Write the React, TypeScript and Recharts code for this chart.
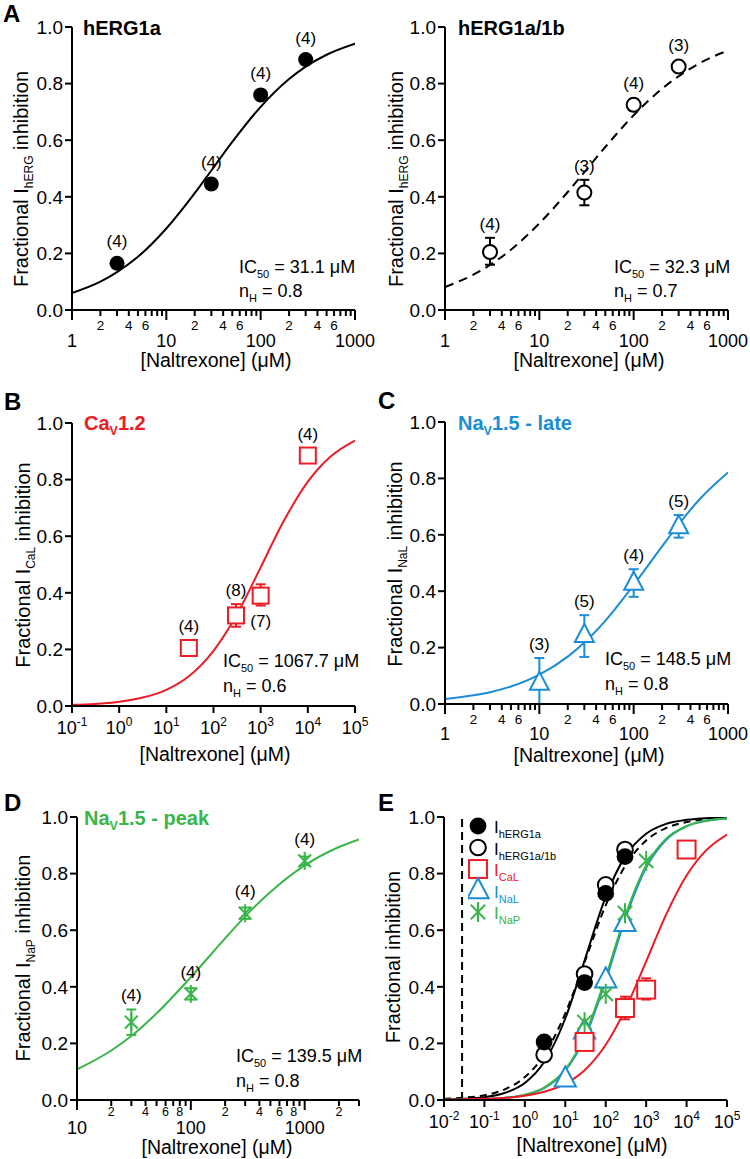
import React from 'react';
import {
  ComposedChart,
  Line,
  Scatter,
  XAxis,
  YAxis,
  ErrorBar,
  ReferenceLine,
  Legend,
} from 'recharts';

const FONT = '"Liberation Sans", Arial, Helvetica, sans-serif';
const RED = '#ED1C24';
const BLUE = '#1B8DD5';
const GREEN = '#3AB54A';
const BLACK = '#000000';

// concentrations tested (µM)
const concHerg = [3, 30, 100, 300];
const concCaL = [30, 300, 1000, 10000];
const concNaL = [10, 30, 100, 300];
const concNaP = [30, 100, 300, 1000];

// A - hERG1a
const herg1aMean = [0.165, 0.445, 0.76, 0.885];
const herg1aN = [4, 4, 4, 4];
// A - hERG1a/1b
const herg1a1bMean = [0.205, 0.415, 0.725, 0.86];
const herg1a1bErrLo = [0.045, 0.045, 0.02, 0.015];
const herg1a1bErrHi = [0.05, 0.045, 0.02, 0.015];
const herg1a1bN = [4, 3, 4, 3];
// B - CaV1.2
const caLMean = [0.205, 0.32, 0.39, 0.885];
const caLErrLo = [0.025, 0.04, 0.035, 0];
const caLErrHi = [0.015, 0.04, 0.04, 0];
const caLN = [4, 8, 7, 4];
const caLNBelow = [false, false, true, false];
// C - NaV1.5 late
const naLMean = [0.075, 0.245, 0.43, 0.63];
const naLErrLo = [0.075, 0.078, 0.05, 0.04];
const naLErrHi = [0.088, 0.07, 0.048, 0.04];
const naLN = [3, 5, 4, 5];
// D - NaV1.5 peak
const naPMean = [0.275, 0.375, 0.66, 0.845];
const naPErrLo = [0.045, 0.02, 0.02, 0.015];
const naPErrHi = [0.045, 0.02, 0.02, 0.015];
const naPN = [4, 4, 4, 4];
// E - overlay of all channels
const eHerg1aMean = [0.205, 0.415, 0.73, 0.86];
const eHerg1a1bMean = [0.16, 0.445, 0.76, 0.885];
const eCaLMean = [0.205, 0.325, 0.39, 0.885];
const eCaLErrLo = [0, 0.04, 0.035, 0];
const eCaLErrHi = [0, 0.04, 0.04, 0];
const eNaLMean = [0.075, 0.245, 0.425, 0.625];
const eNaPMean = [0.275, 0.375, 0.66, 0.845];
const cmaxConc = 0.028;

// fitted curves
const fitX1to1000 = [1, 2, 3, 5, 10, 20, 30, 50, 100, 200, 300, 500, 1000];
const fitHerg1a = [0.06, 0.1, 0.134, 0.188, 0.288, 0.413, 0.493, 0.594, 0.718, 0.816, 0.86, 0.902, 0.941];
const fitHerg1a1b = [0.081, 0.125, 0.159, 0.213, 0.306, 0.417, 0.487, 0.576, 0.688, 0.782, 0.826, 0.872, 0.917];
const fitNaL = [0.018, 0.031, 0.042, 0.062, 0.104, 0.168, 0.218, 0.295, 0.422, 0.559, 0.637, 0.726, 0.821];
const fitXCaL = [0.1, 0.3, 1, 3, 10, 30, 100, 300, 1000, 3000, 10000, 30000, 100000];
const fitCaL = [0.004, 0.007, 0.015, 0.029, 0.057, 0.105, 0.195, 0.318, 0.49, 0.65, 0.793, 0.881, 0.938];
const fitXNaP = [10, 20, 30, 50, 100, 200, 300, 500, 1000, 2000, 3000];
const fitNaP = [0.108, 0.175, 0.226, 0.306, 0.434, 0.571, 0.649, 0.735, 0.829, 0.894, 0.921];
const fitXE = [0.01, 0.03, 0.1, 0.3, 1, 3, 10, 30, 100, 300, 1000, 3000, 10000, 30000, 100000];
const fitEHerg1a = [0.002, 0.004, 0.01, 0.024, 0.06, 0.134, 0.288, 0.493, 0.718, 0.86, 0.941, 0.975, 0.99, 0.996, 0.998];
const fitEHerg1a1b = [0.004, 0.008, 0.017, 0.036, 0.081, 0.159, 0.306, 0.487, 0.688, 0.826, 0.917, 0.96, 0.982, 0.992, 0.996];
const fitECaL = [0.001, 0.002, 0.004, 0.007, 0.015, 0.029, 0.057, 0.105, 0.195, 0.318, 0.49, 0.65, 0.793, 0.881, 0.938];
const fitENaL = [0.0005, 0.001, 0.003, 0.007, 0.018, 0.042, 0.104, 0.218, 0.422, 0.637, 0.821, 0.917, 0.967, 0.986, 0.995];
const fitENaP = [0.0005, 0.001, 0.003, 0.007, 0.019, 0.044, 0.108, 0.226, 0.434, 0.649, 0.829, 0.921, 0.968, 0.987, 0.995];

// axis ticks
const yTicks = [0, 0.2, 0.4, 0.6, 0.8, 1.0];
const ticks1to1000 = [1, 2, 3, 4, 5, 6, 7, 8, 9, 10, 20, 30, 40, 50, 60, 70, 80, 90, 100, 200, 300, 400, 500, 600, 700, 800, 900, 1000];
const ticks10to3000 = [10, 20, 30, 40, 50, 60, 70, 80, 90, 100, 200, 300, 400, 500, 600, 700, 800, 900, 1000, 2000, 3000];
const decadesB = [0.1, 1, 10, 100, 1000, 10000, 100000];
const decadesE = [0.01, 0.1, 1, 10, 100, 1000, 10000, 100000];
const minorLabels246 = [2, 4, 6];
const minorLabels2468 = [2, 4, 6, 8];

type MarkerKind = 'filled' | 'open' | 'square' | 'triangle' | 'star';

interface Pt {
  x: number;
  y: number;
  n?: number;
  err?: [number, number];
  below?: boolean;
}

const toPts = (
  xs: number[],
  ys: number[],
  ns?: number[],
  lo?: number[],
  hi?: number[],
  below?: boolean[]
): Pt[] =>
  xs.map((x, i) => ({
    x,
    y: ys[i],
    n: ns ? ns[i] : undefined,
    err: lo && hi ? [lo[i], hi[i]] : undefined,
    below: below ? below[i] : false,
  }));

const toLine = (xs: number[], ys: number[]) => xs.map((x, i) => ({ x, y: ys[i] }));

const drawMarker = (kind: MarkerKind, cx: number, cy: number, color: string, s = 1) => {
  switch (kind) {
    case 'filled':
      return <circle cx={cx} cy={cy} r={7.5 * s} fill={color} />;
    case 'open':
      return <circle cx={cx} cy={cy} r={7 * s} fill="#fff" stroke={color} strokeWidth={2} />;
    case 'square':
      return (
        <rect x={cx - 8 * s} y={cy - 8 * s} width={16 * s} height={16 * s} fill="#fff" stroke={color} strokeWidth={2} />
      );
    case 'triangle':
      return (
        <polygon
          points={`${cx},${cy - 11 * s} ${cx - 9.5 * s},${cy + 7 * s} ${cx + 9.5 * s},${cy + 7 * s}`}
          fill="#fff"
          stroke={color}
          strokeWidth={2}
        />
      );
    default: {
      const r = 9 * s;
      const d = 6.4 * s;
      return (
        <g stroke={color} strokeWidth={2}>
          <line x1={cx} y1={cy - r} x2={cx} y2={cy + r} />
          <line x1={cx - d} y1={cy - d} x2={cx + d} y2={cy + d} />
          <line x1={cx - d} y1={cy + d} x2={cx + d} y2={cy - d} />
        </g>
      );
    }
  }
};

const makeShape = (kind: MarkerKind, color: string, plotH: number, showN: boolean, scale: number) => (props: any) => {
  const { cx, cy, payload } = props;
  if (cx == null || cy == null) return <g />;
  const lo = payload.err ? payload.err[0] * plotH : 0;
  const hi = payload.err ? payload.err[1] * plotH : 0;
  let label = null;
  if (showN && payload.n != null) {
    const ly = payload.below ? cy + Math.max(10, lo) + 21 : cy - Math.max(16, hi + 8);
    label = (
      <text x={cx} y={ly} textAnchor="middle" fontSize={17} fill="#000">
        ({payload.n})
      </text>
    );
  }
  return (
    <g>
      {drawMarker(kind, cx, cy, color, scale)}
      {label}
    </g>
  );
};

// log axis with minor ticks, labelled 2 4 6 between decades
const makeMinorTick = (labelDigits: number[], majorDy: number, minorDy: number, minorSize: number) => (props: any) => {
  const { x, y, payload } = props;
  const v = payload.value;
  const lg = Math.log10(v);
  const major = Math.abs(lg - Math.round(lg)) < 1e-6;
  const lead = Math.round(v / Math.pow(10, Math.floor(lg + 1e-9)));
  return (
    <g>
      <line x1={x} x2={x} y1={y} y2={y + (major ? 10 : 6)} stroke="#000" strokeWidth={2} />
      {major && (
        <text x={x} y={y + majorDy} textAnchor="middle" fontSize={18} fill="#000">
          {String(Math.round(v))}
        </text>
      )}
      {!major && labelDigits.includes(lead) && (
        <text x={x} y={y + minorDy} textAnchor="middle" fontSize={minorSize} fill="#000">
          {lead}
        </text>
      )}
    </g>
  );
};

// log axis with decade ticks labelled as powers of ten
const decadeTick = (props: any) => {
  const { x, y, payload } = props;
  const e = Math.round(Math.log10(payload.value));
  return (
    <g>
      <line x1={x} x2={x} y1={y} y2={y + 7} stroke="#000" strokeWidth={2} />
      <text x={x} y={y + 28} textAnchor="middle" fontSize={18} fill="#000">
        10
        <tspan fontSize={12} dy={-8}>
          {e}
        </tspan>
      </text>
    </g>
  );
};

interface CurveSpec {
  data: { x: number; y: number }[];
  color: string;
  dash?: string;
}

interface PointSpec {
  pts: Pt[];
  kind: MarkerKind;
  color: string;
  showN: boolean;
  errors: boolean;
}

interface PanelProps {
  left: number;
  top: number;
  height: number;
  marginTop: number;
  marginRight: number;
  yAxisWidth: number;
  plotH: number;
  markerScale?: number;
  xDomain: [number, number];
  xTicks: number[];
  tick: (p: any) => React.ReactElement;
  curves: CurveSpec[];
  points: PointSpec[];
  refX?: number;
  legend?: React.ReactElement;
}

const Panel = (p: PanelProps) => (
  <div style={{ position: 'absolute', left: p.left, top: p.top }}>
    <ComposedChart
      width={375}
      height={p.height}
      margin={{ top: p.marginTop, right: p.marginRight, bottom: 0, left: 0 }}
    >
      <XAxis
        dataKey="x"
        type="number"
        scale="log"
        domain={p.xDomain}
        allowDataOverflow
        ticks={p.xTicks}
        interval={0}
        tick={p.tick}
        tickSize={0}
        tickMargin={0}
        tickLine={false}
        height={p.height - p.marginTop - p.plotH}
        axisLine={{ stroke: '#000', strokeWidth: 2 }}
      />
      <YAxis
        dataKey="y"
        type="number"
        domain={[0, 1]}
        ticks={yTicks}
        allowDataOverflow
        width={p.yAxisWidth}
        tickSize={7}
        tickMargin={2}
        tickFormatter={(v: number) => v.toFixed(1)}
        tick={{ fill: '#000', fontSize: 19 }}
        tickLine={{ stroke: '#000', strokeWidth: 2 }}
        axisLine={{ stroke: '#000', strokeWidth: 2 }}
      />
      {p.refX != null && (
        <ReferenceLine x={p.refX} stroke="#000" strokeWidth={2} strokeDasharray="8 5" />
      )}
      {p.curves.map((c, i) => (
        <Line
          key={`c${i}`}
          data={c.data}
          dataKey="y"
          type="monotone"
          stroke={c.color}
          strokeWidth={2}
          strokeDasharray={c.dash}
          dot={false}
          activeDot={false}
          isAnimationActive={false}
        />
      ))}
      {p.points.map((s, i) => (
        <Scatter
          key={`s${i}`}
          data={s.pts}
          dataKey="y"
          shape={makeShape(s.kind, s.color, p.plotH, s.showN, p.markerScale ?? 1)}
          isAnimationActive={false}
        >
          {s.errors && (
            <ErrorBar
              dataKey="err"
              direction="y"
              width={5}
              strokeWidth={2}
              stroke={s.color}
              isAnimationActive={false}
            />
          )}
        </Scatter>
      ))}
      {p.legend}
    </ComposedChart>
  </div>
);

const legendRows: { kind: MarkerKind; color: string; sub: string }[] = [
  { kind: 'filled', color: BLACK, sub: 'hERG1a' },
  { kind: 'open', color: BLACK, sub: 'hERG1a/1b' },
  { kind: 'square', color: RED, sub: 'CaL' },
  { kind: 'triangle', color: BLUE, sub: 'NaL' },
  { kind: 'star', color: GREEN, sub: 'NaP' },
];

const LegendBox = () => (
  <svg width={130} height={112}>
    {legendRows.map((r, i) => {
      const cy = 12 + i * 21.5;
      return (
        <g key={r.sub}>
          {drawMarker(r.kind, 10, cy, r.color, 1.12)}
          <text x={26} y={cy + 7} fontSize={17} fill={r.color} fontFamily={FONT}>
            I
            <tspan fontSize={11} dy={5}>
              {r.sub}
            </tspan>
          </text>
        </g>
      );
    })}
  </svg>
);

const Sub = ({ x, y, main, sub, rest, size, subSize, weight, fill }: any) => (
  <text x={x} y={y} fontSize={size} fontWeight={weight} fill={fill || '#000'}>
    {main}
    <tspan fontSize={subSize} dy={5}>
      {sub}
    </tspan>
    <tspan dy={-5}>{rest}</tspan>
  </text>
);

const YTitle = ({ x, y, sub }: { x: number; y: number; sub?: string }) => (
  <text x={x} y={y} fontSize={20} textAnchor="middle" transform={`rotate(-90 ${x} ${y})`}>
    {sub ? 'Fractional I' : 'Fractional inhibition'}
    {sub && (
      <tspan fontSize={12} dy={5}>
        {sub}
      </tspan>
    )}
    {sub && <tspan dy={-5}> inhibition</tspan>}
  </text>
);

const XTitle = ({ x, y }: { x: number; y: number }) => (
  <text x={x} y={y} fontSize={19.5} textAnchor="middle">
    [Naltrexone] (μM)
  </text>
);

export default function App() {
  return (
    <div
      style={{
        position: 'absolute',
        left: 0,
        top: 0,
        width: 750,
        height: 1159,
        background: '#fff',
        fontFamily: FONT,
      }}
    >
      {/* A left */}
      <Panel
        left={0}
        top={0}
        height={370}
        marginTop={27}
        marginRight={20}
        yAxisWidth={72}
        plotH={283}
        xDomain={[1, 1000]}
        xTicks={ticks1to1000}
        tick={makeMinorTick(minorLabels246, 37, 19.5, 13.5)}
        curves={[{ data: toLine(fitX1to1000, fitHerg1a), color: BLACK }]}
        points={[{ pts: toPts(concHerg, herg1aMean, herg1aN), kind: 'filled', color: BLACK, showN: true, errors: false }]}
      />
      {/* A right */}
      <Panel
        left={375}
        top={0}
        height={370}
        marginTop={27}
        marginRight={22}
        yAxisWidth={70}
        plotH={283}
        xDomain={[1, 1000]}
        xTicks={ticks1to1000}
        tick={makeMinorTick(minorLabels246, 37, 19.5, 13.5)}
        curves={[{ data: toLine(fitX1to1000, fitHerg1a1b), color: BLACK, dash: '9 6' }]}
        points={[
          {
            pts: toPts(concHerg, herg1a1bMean, herg1a1bN, herg1a1bErrLo, herg1a1bErrHi),
            kind: 'open',
            color: BLACK,
            showN: true,
            errors: true,
          },
        ]}
      />
      {/* B */}
      <Panel
        left={0}
        top={370}
        height={380}
        marginTop={53}
        marginRight={20}
        yAxisWidth={72}
        plotH={283}
        xDomain={[0.1, 100000]}
        xTicks={decadesB}
        tick={decadeTick}
        curves={[{ data: toLine(fitXCaL, fitCaL), color: RED }]}
        points={[
          {
            pts: toPts(concCaL, caLMean, caLN, caLErrLo, caLErrHi, caLNBelow),
            kind: 'square',
            color: RED,
            showN: true,
            errors: true,
          },
        ]}
      />
      {/* C */}
      <Panel
        left={375}
        top={370}
        height={380}
        marginTop={52}
        marginRight={22}
        yAxisWidth={70}
        plotH={282}
        xDomain={[1, 1000]}
        xTicks={ticks1to1000}
        tick={makeMinorTick(minorLabels246, 36, 19.5, 13.5)}
        curves={[{ data: toLine(fitX1to1000, fitNaL), color: BLUE }]}
        points={[
          {
            pts: toPts(concNaL, naLMean, naLN, naLErrLo, naLErrHi),
            kind: 'triangle',
            color: BLUE,
            showN: true,
            errors: true,
          },
        ]}
      />
      {/* D */}
      <Panel
        left={0}
        top={750}
        height={409}
        marginTop={67}
        marginRight={16}
        yAxisWidth={77}
        plotH={283}
        xDomain={[10, 3000]}
        xTicks={ticks10to3000}
        tick={makeMinorTick(minorLabels2468, 33.5, 16, 12.5)}
        curves={[{ data: toLine(fitXNaP, fitNaP), color: GREEN }]}
        points={[
          {
            pts: toPts(concNaP, naPMean, naPN, naPErrLo, naPErrHi),
            kind: 'star',
            color: GREEN,
            showN: true,
            errors: true,
          },
        ]}
      />
      {/* E */}
      <Panel
        left={375}
        top={750}
        height={409}
        marginTop={67}
        marginRight={23}
        yAxisWidth={69}
        plotH={283}
        markerScale={1.12}
        xDomain={[0.01, 100000]}
        xTicks={decadesE}
        tick={decadeTick}
        refX={cmaxConc}
        curves={[
          { data: toLine(fitXE, fitEHerg1a1b), color: BLACK, dash: '7 5' },
          { data: toLine(fitXE, fitEHerg1a), color: BLACK },
          { data: toLine(fitXE, fitENaL), color: BLUE },
          { data: toLine(fitXE, fitENaP), color: GREEN },
          { data: toLine(fitXE, fitECaL), color: RED },
        ]}
        points={[
          { pts: toPts(concNaL, eNaLMean), kind: 'triangle', color: BLUE, showN: false, errors: false },
          {
            pts: toPts(concCaL, eCaLMean, undefined, eCaLErrLo, eCaLErrHi),
            kind: 'square',
            color: RED,
            showN: false,
            errors: true,
          },
          { pts: toPts(concNaP, eNaPMean), kind: 'star', color: GREEN, showN: false, errors: false },
          { pts: toPts(concHerg, eHerg1a1bMean), kind: 'open', color: BLACK, showN: false, errors: false },
          { pts: toPts(concHerg, eHerg1aMean), kind: 'filled', color: BLACK, showN: false, errors: false },
        ]}
        legend={
          <Legend
            layout="vertical"
            align="center"
            verticalAlign="middle"
            wrapperStyle={{ left: 93, top: 64, width: 130, height: 112 }}
            content={() => <LegendBox />}
          />
        }
      />

      {/* text overlay: panel letters, titles, fit parameters, axis titles */}
      <svg
        width={750}
        height={1159}
        style={{ position: 'absolute', left: 0, top: 0, pointerEvents: 'none', fontFamily: FONT }}
      >
        <g fontSize={24} fontWeight="bold">
          <text x={3} y={22}>A</text>
          <text x={4} y={410}>B</text>
          <text x={378} y={409}>C</text>
          <text x={4} y={811}>D</text>
          <text x={378} y={811}>E</text>
        </g>
        <text x={83} y={35} fontSize={20} fontWeight="bold">hERG1a</text>
        <text x={458} y={35} fontSize={20} fontWeight="bold">hERG1a/1b</text>
        <Sub x={84} y={430} main="Ca" sub="V" rest="1.2" size={20} subSize={12.5} weight="bold" fill={RED} />
        <Sub x={458} y={430} main="Na" sub="V" rest="1.5 - late" size={20} subSize={12.5} weight="bold" fill={BLUE} />
        <Sub x={84} y={825} main="Na" sub="V" rest="1.5 - peak" size={20} subSize={12.5} weight="bold" fill={GREEN} />

        <Sub x={239} y={273} main="IC" sub="50" rest=" = 31.1 μM" size={18} subSize={11} />
        <Sub x={239} y={297} main="n" sub="H" rest=" = 0.8" size={18} subSize={11} />
        <Sub x={614} y={273} main="IC" sub="50" rest=" = 32.3 μM" size={18} subSize={11} />
        <Sub x={614} y={297} main="n" sub="H" rest=" = 0.7" size={18} subSize={11} />
        <Sub x={223} y={667} main="IC" sub="50" rest=" = 1067.7 μM" size={18} subSize={11} />
        <Sub x={223} y={692} main="n" sub="H" rest=" = 0.6" size={18} subSize={11} />
        <Sub x={605} y={665} main="IC" sub="50" rest=" = 148.5 μM" size={18} subSize={11} />
        <Sub x={605} y={690} main="n" sub="H" rest=" = 0.8" size={18} subSize={11} />
        <Sub x={236} y={1062} main="IC" sub="50" rest=" = 139.5 μM" size={18} subSize={11} />
        <Sub x={236} y={1087} main="n" sub="H" rest=" = 0.8" size={18} subSize={11} />

        <YTitle x={28} y={179} sub="hERG" />
        <YTitle x={403} y={179} sub="hERG" />
        <YTitle x={30} y={565} sub="CaL" />
        <YTitle x={402} y={564} sub="NaL" />
        <YTitle x={30} y={958} sub="NaP" />
        <YTitle x={400} y={957} />

        <XTitle x={216} y={367} />
        <XTitle x={589} y={367} />
        <XTitle x={215} y={761} />
        <XTitle x={589} y={762} />
        <XTitle x={217} y={1154} />
        <XTitle x={592} y={1152} />
      </svg>
    </div>
  );
}
